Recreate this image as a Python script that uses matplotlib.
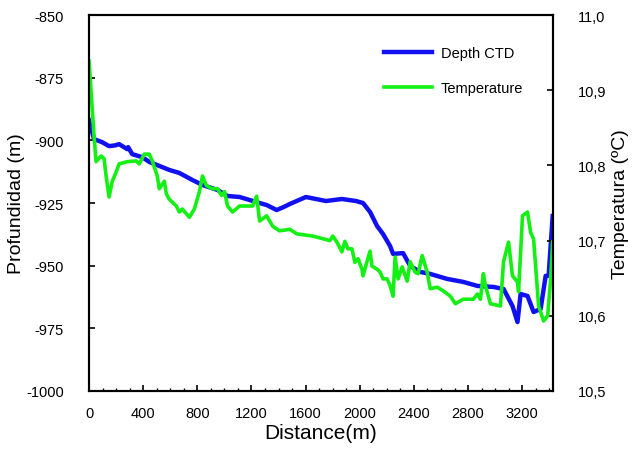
import numpy as np
import matplotlib.pyplot as plt
from matplotlib.ticker import MultipleLocator, FuncFormatter

plt.rcParams['font.family'] = ['Liberation Sans', 'DejaVu Sans']
plt.rcParams['axes.unicode_minus'] = False

# --------------------------------------------
# Data
# --------------------------------------------
depth_dist = [0, 37, 96, 148, 193, 222, 282, 289, 319, 393, 445, 519, 593, 667, 763,
              838, 949, 1023, 1112, 1186, 1260, 1312, 1386, 1438, 1483, 1602, 1750,
              1868, 1972, 2024, 2076, 2128, 2172, 2224, 2246, 2320, 2372, 2446, 2520,
              2646, 2765, 2869, 2987, 3062, 3128, 3165, 3188, 3239, 3284, 3336, 3373,
              3395, 3425]
depth_val = [-892.0, -899.5, -900.7, -902.3, -902.0, -901.5, -903.5, -902.7, -905.5,
             -906.7, -908.6, -910.2, -911.8, -913.0, -915.8, -917.8, -919.8, -922.2,
             -922.6, -923.8, -925.0, -925.8, -927.8, -926.6, -925.4, -922.6, -924.2,
             -923.4, -924.2, -925.0, -928.6, -934.2, -937.4, -942.2, -945.3, -945.0,
             -950.1, -952.5, -953.3, -955.3, -956.5, -958.1, -958.5, -959.3, -966.1,
             -972.5, -961.3, -962.1, -968.5, -967.3, -954.1, -954.0, -930.2]

temp_dist = [0, 37, 52, 89, 111, 126, 148, 170, 200, 222, 282, 348, 371, 408, 445,
             467, 504, 519, 556, 571, 593, 645, 667, 689, 741, 778, 815, 838, 867,
             912, 949, 979, 1001, 1023, 1060, 1112, 1164, 1208, 1238, 1260, 1312,
             1357, 1408, 1483, 1534, 1653, 1779, 1801, 1831, 1868, 1890, 1913, 1942,
             1964, 1987, 2016, 2024, 2053, 2076, 2090, 2128, 2150, 2172, 2202, 2224,
             2246, 2261, 2283, 2313, 2350, 2372, 2409, 2431, 2461, 2498, 2520, 2572,
             2617, 2669, 2706, 2765, 2839, 2869, 2891, 2913, 2928, 2965, 3039, 3062,
             3099, 3128, 3165, 3173, 3202, 3239, 3262, 3284, 3321, 3358, 3388, 3410,
             3425]
temp_val = [10.939, 10.839, 10.805, 10.8125, 10.809, 10.786, 10.758, 10.778, 10.791,
            10.802, 10.805, 10.806, 10.802, 10.815, 10.815, 10.806, 10.786, 10.769,
            10.779, 10.762, 10.755, 10.746, 10.738, 10.742, 10.731, 10.742, 10.765,
            10.786, 10.773, 10.769, 10.769, 10.760, 10.765, 10.746, 10.738, 10.746,
            10.746, 10.746, 10.759, 10.726, 10.733, 10.719, 10.713, 10.715, 10.709,
            10.706, 10.700, 10.706, 10.698, 10.685, 10.699, 10.689, 10.689, 10.671,
            10.676, 10.662, 10.653, 10.672, 10.686, 10.666, 10.662, 10.658, 10.649,
            10.649, 10.640, 10.626, 10.678, 10.649, 10.665, 10.646, 10.672, 10.658,
            10.656, 10.680, 10.658, 10.636, 10.638, 10.633, 10.626, 10.616, 10.622,
            10.622, 10.629, 10.622, 10.656, 10.640, 10.616, 10.613, 10.672, 10.698,
            10.653, 10.645, 10.632, 10.733, 10.738, 10.711, 10.702, 10.613, 10.593,
            10.600, 10.649, 10.698]

x_ticks = [0, 400, 800, 1200, 1600, 2000, 2400, 2800, 3200]
depth_ticks = [-1000, -975, -950, -925, -900, -875, -850]
temp_ticks = [10.5, 10.6, 10.7, 10.8, 10.9, 11.0]

# --------------------------------------------
# Plot
# --------------------------------------------
fig = plt.figure(figsize=(6.36, 4.60), dpi=100)
ax = fig.add_axes([0.140, 0.148, 0.729, 0.817])
ax2 = ax.twinx()

l1, = ax.plot(depth_dist, depth_val, color='#1010f0', linewidth=3.2, label='Depth CTD')
l2, = ax2.plot(temp_dist, temp_val, color='#14f014', linewidth=2.6, label='Temperature')

ax.set_xlim(0, 3425)
ax.set_ylim(-1000, -850)
ax2.set_ylim(10.5, 11.0)

ax.set_xticks(x_ticks)
ax.xaxis.set_minor_locator(MultipleLocator(100))
ax.set_yticks(depth_ticks)
ax2.set_yticks(temp_ticks)
ax2.yaxis.set_major_formatter(FuncFormatter(lambda v, p: f"{v:.1f}".replace('.', ',')))

ax.tick_params(axis='x', which='major', direction='in', length=4, width=1.2,
               labelsize=10.5, pad=11)
ax.tick_params(axis='x', which='minor', direction='in', length=2.5, width=1.0)
ax.tick_params(axis='y', direction='in', length=4, width=1.2, labelsize=10.5, pad=18)
ax2.tick_params(axis='y', direction='in', length=4, width=1.2, labelsize=10.5, pad=18)

for a in (ax, ax2):
    for s in a.spines.values():
        s.set_linewidth(1.5)

ax.set_xlabel('Distance(m)', fontsize=15, labelpad=2)
ax.set_ylabel('Profundidad (m)', fontsize=14)
ax.yaxis.set_label_coords(-0.138, 0.5)
ax2.set_ylabel('Temperatura (ºC)', fontsize=14)
ax2.yaxis.set_label_coords(1.128, 0.5)

ax2.legend(handles=[l1, l2], loc='upper left', bbox_to_anchor=(384 / 636, 1 - 47 / 460),
           bbox_transform=fig.transFigure, borderpad=0, borderaxespad=0,
           frameon=False, fontsize=10.5, handlelength=3.3, labelspacing=1.45,
           handletextpad=0.6)

fig.savefig('out.png', dpi=100)
